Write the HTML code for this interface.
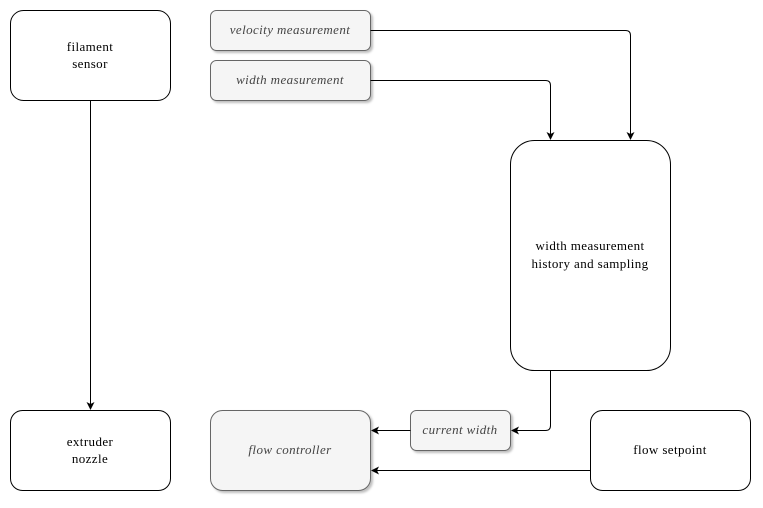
<!DOCTYPE html>
<html><head><style>
body{margin:0;background:#fff;width:763px;height:503px;overflow:hidden}
svg text{font-family:"Liberation Serif",serif;font-size:13px;letter-spacing:0.4px;fill:#000}
.i{font-style:italic;fill:#444}
</style></head><body>
<svg width="763" height="503" viewBox="0 0 763 503">
<defs><marker id="a" markerWidth="8" markerHeight="8" refX="7" refY="4" orient="auto" markerUnits="userSpaceOnUse"><path d="M0,0 L8,4 L0,8 L2,4 z" fill="#000"/></marker>
<filter id="s"><feDropShadow dx="2" dy="2" stdDeviation="1" flood-color="#000" flood-opacity="0.25"/></filter></defs>
<g fill="none" stroke="#000" stroke-width="1">
<rect x="10.5" y="10.5" width="160" height="90" rx="13"/>
<rect x="10.5" y="410.5" width="160" height="80" rx="12"/>
<rect x="590.5" y="410.5" width="160" height="80" rx="12"/>
<rect x="510.5" y="140.5" width="160" height="230" rx="24"/>
</g>
<g fill="#f5f5f5" stroke="#666" filter="url(#s)">
<rect x="210.5" y="10.5" width="160" height="40" rx="6"/>
<rect x="210.5" y="60.5" width="160" height="40" rx="6"/>
<rect x="210.5" y="410.5" width="160" height="80" rx="12"/>
<rect x="410.5" y="410.5" width="100" height="40" rx="6"/>
</g>
<g fill="none" stroke="#000" marker-end="url(#a)">
<path d="M370.5,30.5 H625.5 Q630.5,30.5 630.5,35.5 V139"/>
<path d="M370.5,80.5 H545.5 Q550.5,80.5 550.5,85.5 V139"/>
<path d="M90.5,100.5 V409"/>
<path d="M550.5,370.5 V425.5 Q550.5,430.5 545.5,430.5 H512"/>
<path d="M410.5,430.5 H372"/>
<path d="M590.5,470.5 H372"/>
</g>
<g text-anchor="middle">
<text x="90" y="51">filament</text><text x="90" y="68">sensor</text>
<text x="90" y="446">extruder</text><text x="90" y="463">nozzle</text>
<text x="670" y="454">flow setpoint</text>
<text x="590" y="250">width measurement</text><text x="590" y="268">history and sampling</text>
<text class="i" x="290" y="34">velocity measurement</text>
<text class="i" x="290" y="84">width measurement</text>
<text class="i" x="290" y="454">flow controller</text>
<text class="i" x="460" y="434">current width</text>
</g>
</svg>
</body></html>
